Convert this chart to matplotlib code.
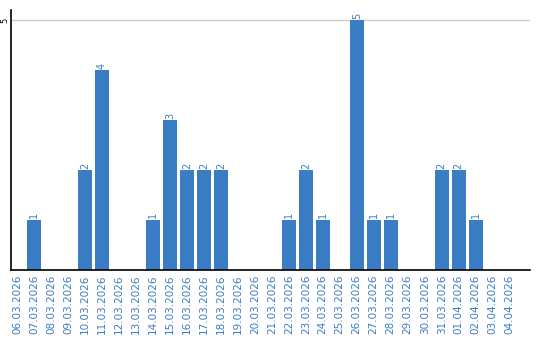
import matplotlib
matplotlib.use("Agg")
import matplotlib.pyplot as plt

dates = ["06.03.2026", "07.03.2026", "08.03.2026", "09.03.2026", "10.03.2026",
         "11.03.2026", "12.03.2026", "13.03.2026", "14.03.2026", "15.03.2026",
         "16.03.2026", "17.03.2026", "18.03.2026", "19.03.2026", "20.03.2026",
         "21.03.2026", "22.03.2026", "23.03.2026", "24.03.2026", "25.03.2026",
         "26.03.2026", "27.03.2026", "28.03.2026", "29.03.2026", "30.03.2026",
         "31.03.2026", "01.04.2026", "02.04.2026", "03.04.2026", "04.04.2026"]
values = [0, 1, 0, 0, 2, 4, 0, 0, 1, 3, 2, 2, 2, 0, 0, 0, 1, 2, 1, 0,
          5, 1, 1, 0, 0, 2, 2, 1, 0, 0]
yticks = [5]

blue = "#3a7dc4"
fig = plt.figure(figsize=(5.4, 3.4), dpi=100)
ax = fig.add_axes([11/540, 70/340, 519/540, 260/340])
x = list(range(len(dates)))
ax.bar(x, values, width=0.82, color=blue, zorder=2)
for xi, v in zip(x, values):
    if v > 0:
        ax.text(xi, v + 0.03, str(v), rotation=90, ha="center", va="bottom",
                fontsize=7, color=blue)
ax.set_xlim(-0.35, 30.2)
ax.set_ylim(0, 5.2)
ax.set_yticks(yticks)
ax.set_yticklabels([str(t) for t in yticks], rotation=90, va="center", fontsize=6)
ax.tick_params(axis="y", length=0, pad=1)
ax.set_xticks(x)
ax.set_xticklabels(dates, rotation=90, fontsize=7.5, color=blue)
ax.tick_params(axis="x", length=0, pad=3)
ax.grid(axis="y", color="#cccccc", linewidth=1, zorder=0)
for s in ["top", "right"]:
    ax.spines[s].set_visible(False)
ax.spines["left"].set_color("black")
ax.spines["bottom"].set_color("black")
ax.spines["left"].set_linewidth(1.2)
ax.spines["bottom"].set_linewidth(1.2)
fig.savefig("out.png", dpi=100)
